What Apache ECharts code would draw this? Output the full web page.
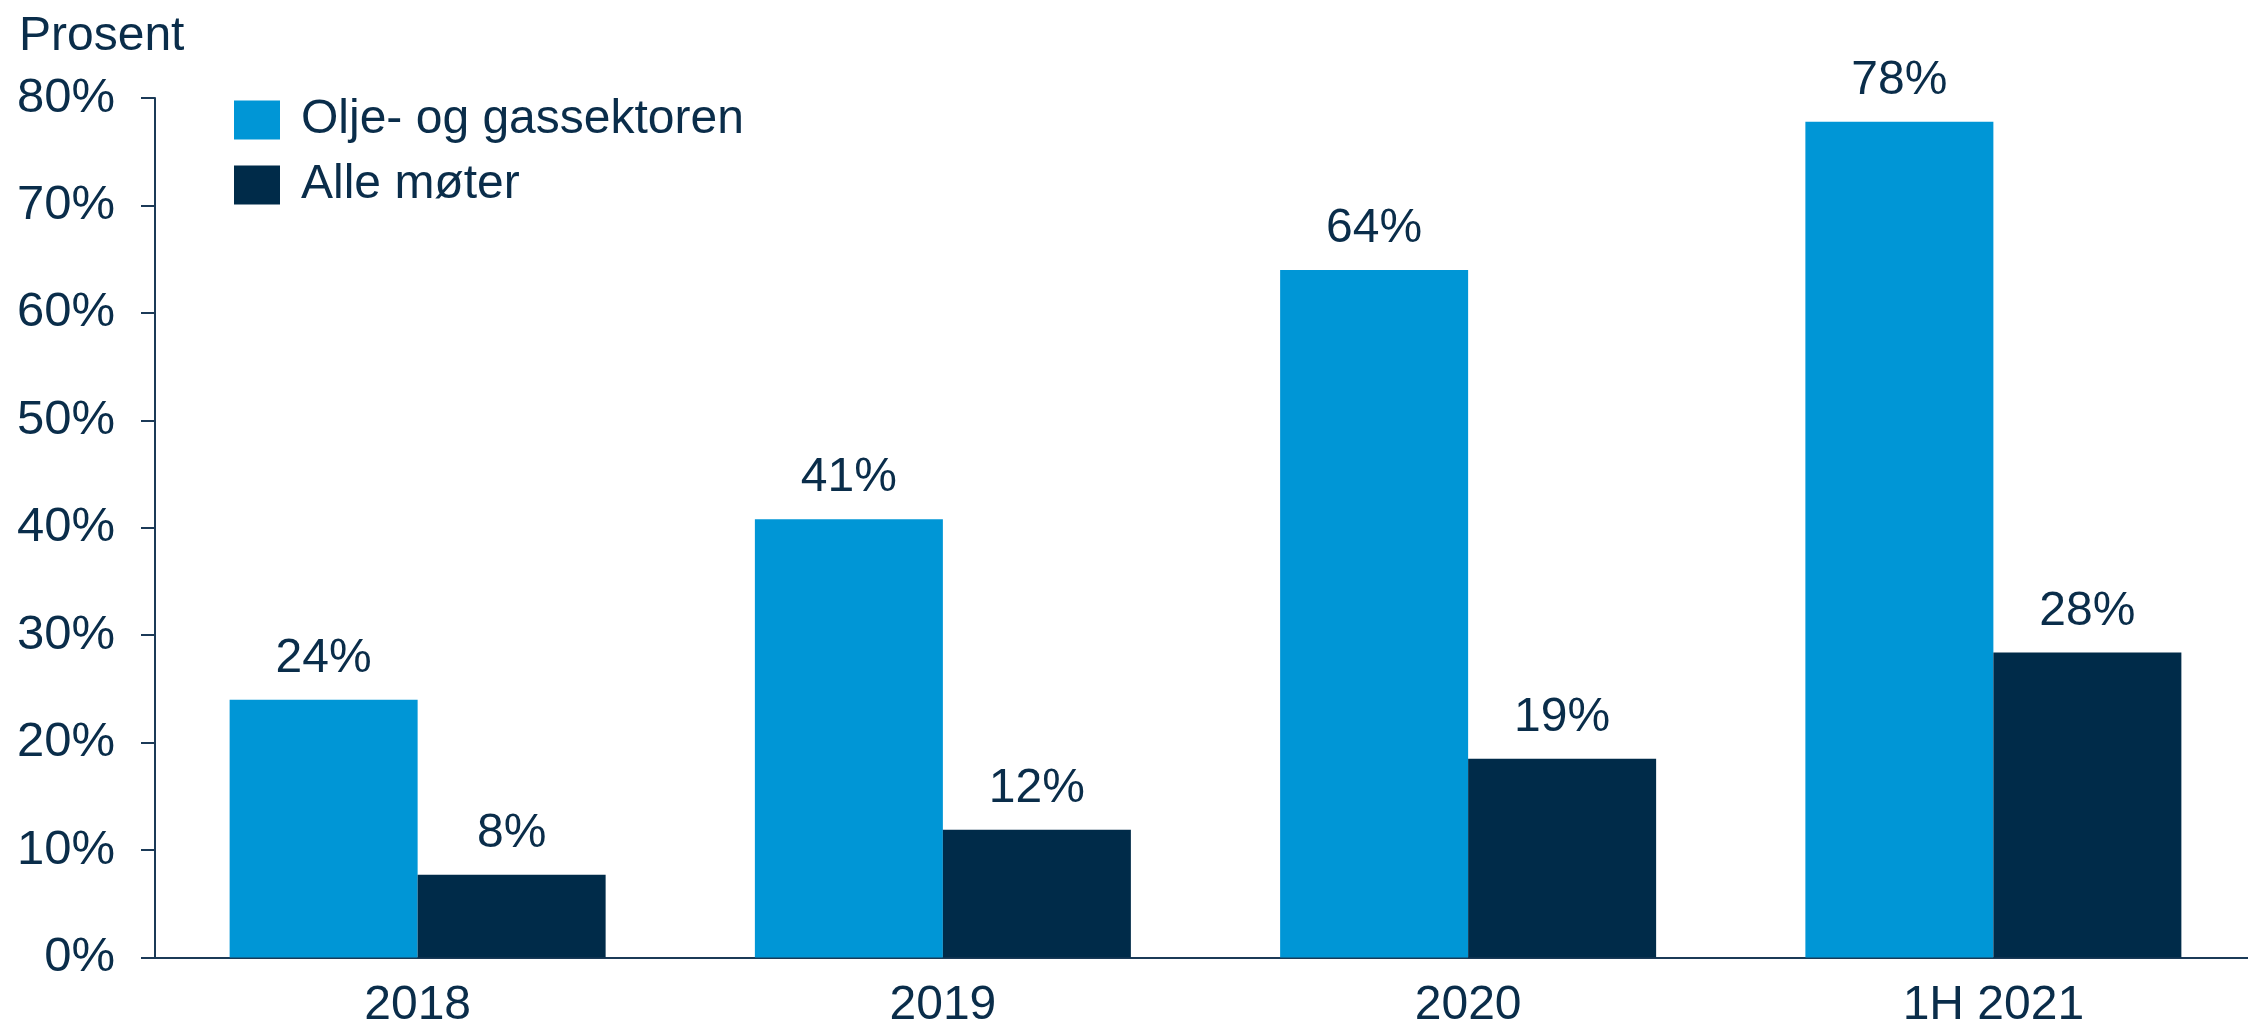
<!DOCTYPE html>
<html>
<head>
<meta charset="utf-8">
<script src="https://cdn.jsdelivr.net/npm/echarts@6/dist/echarts.min.js"></script>
<style>
  html, body { margin: 0; padding: 0; background: #fff; }
  #chart { width: 2248px; height: 1021px; }
</style>
</head>
<body>
<div id="chart"></div>
<script>
var categories = ['2018', '2019', '2020', '1H 2021']
var oljeGass = [24.0, 40.8, 64.0, 77.8]
var alleMoter = [7.7, 11.9, 18.5, 28.4]
var seriesNames = ['Olje- og gassektoren', 'Alle møter']

var textColor = '#0a2d4a'
var fontFamily = '"Liberation Sans", Arial, sans-serif'

var chart = echarts.init(document.getElementById('chart'))

var labelStyle = {
  show: true,
  position: 'top',
  distance: 17,
  color: textColor,
  fontSize: 48,
  fontFamily: fontFamily,
  formatter: function (p) {
    return Math.round(p.value) + '%'
  }
}

var option = {
  animation: false,
  title: {
    text: 'Prosent',
    left: 14,
    top: 8,
    textStyle: {
      color: textColor,
      fontSize: 48,
      fontWeight: 'normal',
      fontFamily: fontFamily
    }
  },
  legend: {
    orient: 'vertical',
    left: 229,
    top: 91,
    itemWidth: 46,
    itemHeight: 39,
    itemGap: 17,
    icon: 'rect',
    textStyle: {
      color: textColor,
      fontSize: 48,
      fontFamily: fontFamily,
      padding: [0, 0, 0, 16]
    },
    data: seriesNames
  },
  grid: {
    left: 155,
    right: -8,
    top: 98,
    bottom: 63.5,
    containLabel: false,
    outerBoundsMode: 'none'
  },
  xAxis: {
    type: 'category',
    data: categories,
    axisLine: {
      show: true,
      lineStyle: { color: '#1b3a57', width: 2 }
    },
    axisTick: { show: false },
    axisLabel: {
      color: textColor,
      fontSize: 48,
      fontFamily: fontFamily,
      margin: 24
    }
  },
  yAxis: {
    type: 'value',
    min: 0,
    max: 80,
    interval: 10,
    axisLine: {
      show: true,
      lineStyle: { color: '#1b3a57', width: 2 }
    },
    axisTick: {
      show: true,
      inside: false,
      length: 14,
      lineStyle: { color: '#1b3a57', width: 2 }
    },
    splitLine: { show: false },
    axisLabel: {
      color: textColor,
      fontSize: 49,
      fontFamily: fontFamily,
      margin: 40,
      padding: [6, 0, 0, 0],
      formatter: '{value}%'
    }
  },
  series: [
    {
      name: seriesNames[0],
      type: 'bar',
      data: oljeGass,
      barWidth: 188,
      barGap: '0%',
      itemStyle: { color: '#0096d6' },
      label: labelStyle
    },
    {
      name: seriesNames[1],
      type: 'bar',
      data: alleMoter,
      barWidth: 188,
      barGap: '0%',
      itemStyle: { color: '#002b49' },
      label: labelStyle
    }
  ]
}

chart.setOption(option)
</script>
</body>
</html>
